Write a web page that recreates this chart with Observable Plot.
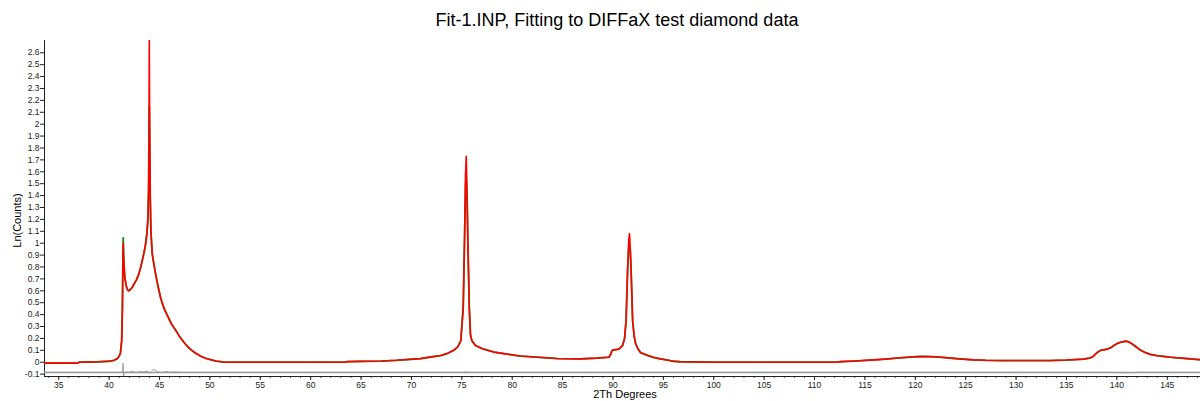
<!DOCTYPE html>
<html>
<head>
<meta charset="utf-8">
<script src="https://cdn.jsdelivr.net/npm/d3@7"></script>
<script src="https://cdn.jsdelivr.net/npm/@observablehq/plot@0.6"></script>
<style>
  body { margin: 0; background: #fff; }
  #wrap { position: relative; width: 1200px; height: 401px; overflow: hidden; font-family: Arial, "Liberation Sans", sans-serif; }
  #title { position: absolute; left: 44px; width: 1146px; top: 10px; text-align: center; font-size: 18px; line-height: 21px; color: #000; }
  #chart { position: absolute; left: 0; top: 36px; }
  #xlabel { position: absolute; left: 44px; width: 1162px; top: 388px; text-align: center; font-size: 11px; line-height: 13px; color: #000; }
  #ylabel { position: absolute; left: -23px; top: 214px; width: 80px; height: 13px; line-height: 13px; text-align: center; transform: rotate(-90deg); transform-origin: 40px 6.5px; font-size: 11px; white-space: nowrap; color: #000; }
</style>
</head>
<body>
<div id="wrap">
  <div id="title">Fit-1.INP, Fitting to DIFFaX test diamond data</div>
  <div id="chart"></div>
  <div id="xlabel">2Th Degrees</div>
  <div id="ylabel">Ln(Counts)</div>
</div>
<script>
// 2Theta positions (degrees)
const xDeg = [33.6, 35.0, 36.9, 37.0, 38.0, 39.0, 40.0, 40.5, 40.8, 41.0,
  41.13, 41.25, 41.32, 41.37, 41.40, 41.45, 41.55, 41.7, 41.85, 41.96,
  42.1, 42.3, 42.5, 42.7, 42.95, 43.2, 43.44, 43.6, 43.75, 43.85,
  43.92, 43.96, 43.99, 44.03, 44.08, 44.15, 44.28, 44.45, 44.61, 44.85,
  45.1, 45.3, 45.52, 45.8, 46.2, 46.6, 47.0, 47.4, 47.8, 48.2,
  48.6, 49.1, 49.5, 49.9, 50.6, 51.5, 55, 60, 63.5, 63.6,
  65, 67, 68.5, 70.0, 70.9, 72.0, 72.9, 73.6, 74.2, 74.6,
  74.9, 75.14, 75.27, 75.37, 75.44, 75.52, 75.6, 75.74, 75.86, 76.0,
  76.36, 77.0, 77.5, 78.2, 79.17, 80.8, 82.5, 84.47, 86.8, 88.4,
  89.6, 89.8, 89.9, 90.1, 90.58, 90.95, 91.15, 91.3, 91.45, 91.57,
  91.64, 91.72, 91.8, 91.95, 92.1, 92.25, 92.5, 92.75, 93.06, 93.5,
  94.05, 94.7, 95.4, 96.0, 96.7, 100, 105, 112.2, 112.6, 114,
  115.9, 117.0, 118.5, 120.0, 120.5, 121.5, 122.5, 123.5, 124.5, 125.8,
  127, 128.5, 133.4, 135, 136.7, 137.3, 137.6, 137.9, 138.1, 138.4,
  139.05, 139.4, 139.7, 140.1, 140.4, 140.9, 141.2, 141.5, 141.9, 142.3,
  142.8, 143.3, 144.0, 144.7, 145.3, 146.0, 147.0, 148.0, 148.3];

// Observed Ln(Counts)
const obsLn = [-0.008, -0.008, -0.008, 0.0, 0.002, 0.004, 0.008, 0.016, 0.03, 0.05,
  0.08, 0.18, 0.45, 0.85, 1.045, 0.88, 0.72, 0.64, 0.605, 0.60,
  0.61, 0.63, 0.66, 0.69, 0.74, 0.82, 0.91, 0.98, 1.08, 1.2,
  1.45, 1.9, 2.15, 1.9, 1.4, 1.1, 0.91, 0.82, 0.745, 0.64,
  0.546, 0.49, 0.44, 0.39, 0.32, 0.27, 0.215, 0.17, 0.13, 0.10,
  0.075, 0.05, 0.035, 0.025, 0.01, 0.0, 0.0, 0.0, 0.0, 0.005,
  0.007, 0.01, 0.016, 0.025, 0.03, 0.045, 0.056, 0.075, 0.10, 0.13,
  0.18, 0.46, 1.02, 1.5, 1.55, 1.4, 1.02, 0.46, 0.23, 0.18,
  0.14, 0.115, 0.102, 0.085, 0.072, 0.052, 0.042, 0.031, 0.028, 0.034,
  0.042, 0.07, 0.098, 0.104, 0.11, 0.14, 0.2, 0.35, 0.77, 0.97,
  0.97, 0.93, 0.77, 0.35, 0.22, 0.155, 0.11, 0.08, 0.07, 0.055,
  0.04, 0.028, 0.018, 0.008, 0.004, 0.0, 0.0, 0.0, 0.005, 0.01,
  0.02, 0.026, 0.037, 0.046, 0.048, 0.047, 0.042, 0.034, 0.027, 0.02,
  0.016, 0.014, 0.014, 0.018, 0.026, 0.035, 0.045, 0.07, 0.085, 0.1,
  0.11, 0.122, 0.14, 0.16, 0.168, 0.177, 0.17, 0.155, 0.13, 0.104,
  0.082, 0.066, 0.055, 0.048, 0.042, 0.037, 0.03, 0.023, 0.022];

// Calculated Ln(Counts)
const calcLn = [-0.008, -0.008, -0.008, 0.0, 0.002, 0.004, 0.008, 0.016, 0.03, 0.05,
  0.08, 0.18, 0.45, 0.85, 1.0, 0.86, 0.72, 0.64, 0.605, 0.60,
  0.61, 0.63, 0.66, 0.69, 0.74, 0.82, 0.91, 0.98, 1.08, 1.2,
  1.45, 1.9, 2.75, 1.9, 1.4, 1.1, 0.91, 0.82, 0.745, 0.64,
  0.546, 0.49, 0.44, 0.39, 0.32, 0.27, 0.215, 0.17, 0.13, 0.10,
  0.075, 0.05, 0.035, 0.025, 0.01, 0.0, 0.0, 0.0, 0.0, 0.005,
  0.007, 0.01, 0.016, 0.025, 0.03, 0.045, 0.056, 0.075, 0.10, 0.13,
  0.18, 0.46, 1.02, 1.58, 1.73, 1.4, 1.02, 0.46, 0.23, 0.18,
  0.14, 0.115, 0.102, 0.085, 0.072, 0.052, 0.042, 0.031, 0.028, 0.034,
  0.042, 0.07, 0.098, 0.104, 0.11, 0.14, 0.2, 0.35, 0.77, 1.03,
  1.08, 0.95, 0.77, 0.35, 0.22, 0.155, 0.11, 0.08, 0.07, 0.055,
  0.04, 0.028, 0.018, 0.008, 0.004, 0.0, 0.0, 0.0, 0.005, 0.01,
  0.02, 0.026, 0.037, 0.046, 0.048, 0.047, 0.042, 0.034, 0.027, 0.02,
  0.016, 0.014, 0.014, 0.018, 0.026, 0.035, 0.045, 0.07, 0.085, 0.1,
  0.11, 0.122, 0.14, 0.16, 0.168, 0.177, 0.17, 0.155, 0.13, 0.104,
  0.082, 0.066, 0.055, 0.048, 0.042, 0.037, 0.03, 0.023, 0.022];

// Difference curve (offset)
const diffX = [33.6, 41.2, 41.35, 41.39, 41.42, 41.5, 41.7, 42.0, 42.3, 42.7,
  43.0, 43.4, 43.8, 44.0, 44.2, 44.4, 44.8, 45.2, 45.6, 46.0,
  46.5, 47.0, 75.25, 75.38, 75.46, 75.56, 75.7, 91.45, 91.56, 91.66,
  91.8, 139.5, 140.2, 141.6, 142.2, 148.3];
const diffLn = [-0.085, -0.085, -0.078, -0.008, -0.12, -0.092, -0.08, -0.086, -0.076, -0.088,
  -0.079, -0.083, -0.074, -0.094, -0.078, -0.06, -0.08, -0.087, -0.079, -0.085,
  -0.081, -0.085, -0.085, -0.078, -0.092, -0.08, -0.085, -0.085, -0.079, -0.09,
  -0.085, -0.085, -0.088, -0.088, -0.085, -0.085];
const diffZero = -0.086;

// Axis ticks
const xTickLabels = [35, 40, 45, 50, 55, 60, 65, 70, 75, 80, 85, 90, 95, 100, 105,
  110, 115, 120, 125, 130, 135, 140, 145];
const yTickLabels = [-0.1, 0, 0.1, 0.2, 0.3, 0.4, 0.5, 0.6, 0.7, 0.8, 0.9,
  1, 1.1, 1.2, 1.3, 1.4, 1.5, 1.6, 1.7, 1.8, 1.9,
  2, 2.1, 2.2, 2.3, 2.4, 2.5, 2.6];

const xDomain = [33.59, 148.3];
const yDomain = [-0.12, 2.703];

const profile = xDeg.map((x, i) => ({x, obs: obsLn[i], calc: calcLn[i]}));
const diff = diffX.map((x, i) => ({x, y: diffLn[i]}));
const minorTicks = d3.range(34, 149);

const chart = Plot.plot({
  width: 1200,
  height: 365,
  marginLeft: 44,
  marginRight: 0,
  marginTop: 4,
  marginBottom: 25,
  style: {fontFamily: "Arial, 'Liberation Sans', sans-serif", fontSize: "8.5px", color: "#222", background: "white"},
  x: {domain: xDomain},
  y: {domain: yDomain},
  marks: [
    Plot.axisX({ticks: minorTicks, tickSize: 2, tickFormat: () => "", label: null, stroke: "#555"}),
    Plot.axisX({ticks: xTickLabels, tickSize: 4, tickPadding: 1, label: null, tickFormat: d => String(d)}),
    Plot.axisY({ticks: yTickLabels, tickSize: 4, tickPadding: 1, label: null,
      tickFormat: d => d < 0 ? "-" + String(Math.abs(d)) : String(d)}),
    Plot.ruleY([yDomain[0]], {stroke: "#222"}),
    Plot.ruleX([xDomain[0]], {stroke: "#222"}),
    Plot.ruleY([diffZero], {stroke: "#999", strokeWidth: 1.5}),
    Plot.line(diff, {x: "x", y: "y", stroke: "#9a9a9a", strokeWidth: 1, clip: true}),
    Plot.line(profile, {x: "x", y: "obs", stroke: "#1a8a1a", strokeWidth: 1.8, clip: true}),
    Plot.line(profile, {x: "x", y: "calc", stroke: "#ff0000", strokeWidth: 1.6, clip: true})
  ]
});
document.getElementById("chart").appendChild(chart);
</script>
</body>
</html>
